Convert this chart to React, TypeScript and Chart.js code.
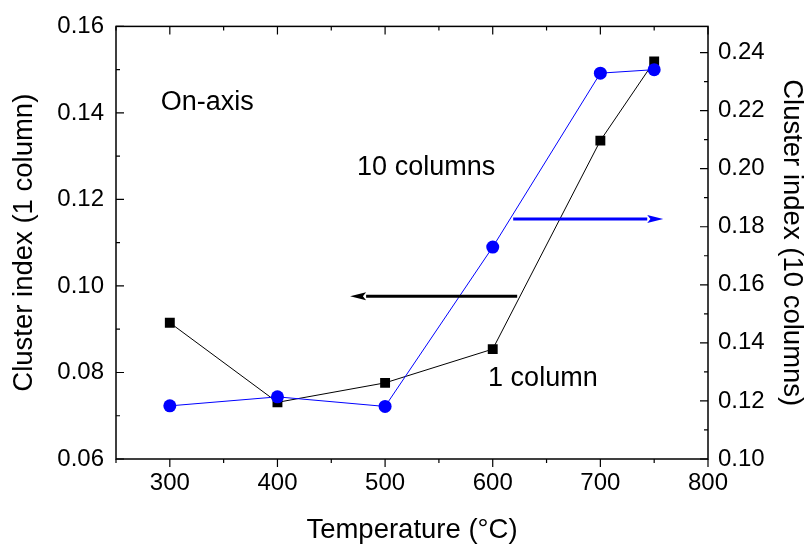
import React, { useEffect, useRef } from "react";
import { Chart, registerables } from "chart.js";

Chart.register(...registerables);

const temperatures = [300, 400, 500, 600, 700, 750];
const oneColumn = [0.0915, 0.0731, 0.0776, 0.0854, 0.1336, 0.1519];
const tenColumns = [0.1183, 0.1214, 0.1181, 0.173, 0.2329, 0.2341];

const xTicks = [300, 400, 500, 600, 700, 800];
const xMinorTicks = [250, 350, 450, 550, 650, 750];
const leftTicks = [0.06, 0.08, 0.1, 0.12, 0.14, 0.16];
const leftMinorTicks = [0.07, 0.09, 0.11, 0.13, 0.15];
const rightTicks = [0.1, 0.12, 0.14, 0.16, 0.18, 0.2, 0.22, 0.24];
const rightMinorTicks = [0.11, 0.13, 0.15, 0.17, 0.19, 0.21, 0.23];

const FONT = "'Liberation Sans', Arial, sans-serif";
const TICK_SIZE = 24;
const TITLE_SIZE = 27.5;
const NOTE_SIZE = 27;

const framePlugin = {
  id: "frame",
  afterDatasetsDraw(chart: any) {
    const ctx = chart.ctx;
    const { left, right, top, bottom } = chart.chartArea;
    const x = chart.scales.x;
    const y = chart.scales.y;
    const y1 = chart.scales.y1;
    ctx.save();
    ctx.strokeStyle = "#000";
    ctx.lineWidth = 1.5;
    ctx.strokeRect(left, top, right - left, bottom - top);
    ctx.lineWidth = 1.2;
    ctx.beginPath();
    const major = 8;
    const minor = 4;
    xTicks.forEach((v) => {
      const p = x.getPixelForValue(v);
      ctx.moveTo(p, bottom);
      ctx.lineTo(p, bottom + major);
      ctx.moveTo(p, top);
      ctx.lineTo(p, top + major);
    });
    xMinorTicks.forEach((v) => {
      const p = x.getPixelForValue(v);
      ctx.moveTo(p, bottom);
      ctx.lineTo(p, bottom + minor);
      ctx.moveTo(p, top);
      ctx.lineTo(p, top + minor);
    });
    leftTicks.forEach((v) => {
      const p = y.getPixelForValue(v);
      ctx.moveTo(left, p);
      ctx.lineTo(left + major, p);
    });
    leftMinorTicks.forEach((v) => {
      const p = y.getPixelForValue(v);
      ctx.moveTo(left, p);
      ctx.lineTo(left + minor, p);
    });
    rightTicks.forEach((v) => {
      const p = y1.getPixelForValue(v);
      ctx.moveTo(right, p);
      ctx.lineTo(right - major, p);
    });
    rightMinorTicks.forEach((v) => {
      const p = y1.getPixelForValue(v);
      ctx.moveTo(right, p);
      ctx.lineTo(right - minor, p);
    });
    ctx.stroke();

    // annotations
    ctx.fillStyle = "#000";
    ctx.font = `${NOTE_SIZE}px ${FONT}`;
    ctx.textBaseline = "middle";
    ctx.textAlign = "left";
    ctx.fillText("On-axis", x.getPixelForValue(291.5), y.getPixelForValue(0.1424));
    ctx.fillText("10 columns", x.getPixelForValue(474), y.getPixelForValue(0.1274));
    ctx.fillText("1 column", x.getPixelForValue(595.7), y.getPixelForValue(0.0787));

    const arrow = (x0: number, x1: number, yy: number, color: string) => {
      const px0 = x.getPixelForValue(x0);
      const px1 = x.getPixelForValue(x1);
      const py = y.getPixelForValue(yy);
      const dir = Math.sign(px1 - px0);
      const headLen = 16;
      const headW = 4;
      ctx.strokeStyle = color;
      ctx.fillStyle = color;
      ctx.lineWidth = 3;
      ctx.beginPath();
      ctx.moveTo(px0, py);
      ctx.lineTo(px1 - dir * headLen, py);
      ctx.stroke();
      ctx.beginPath();
      ctx.moveTo(px1, py);
      ctx.lineTo(px1 - dir * headLen, py - headW);
      ctx.lineTo(px1 - dir * headLen * 0.8, py);
      ctx.lineTo(px1 - dir * headLen, py + headW);
      ctx.closePath();
      ctx.fill();
    };
    arrow(622.7, 467.5, 0.0976, "#000");
    arrow(619, 758.4, 0.1155, "#0000ff");
    ctx.restore();
  },
};

export default function App() {
  const canvasRef = useRef<HTMLCanvasElement>(null);

  useEffect(() => {
    document.body.style.margin = "0";
    const canvas = canvasRef.current;
    if (!canvas) return;
    const tickFont = { family: FONT, size: TICK_SIZE };
    const titleFont = { family: FONT, size: TITLE_SIZE, lineHeight: 1.2 };
    const chart = new Chart(canvas, {
      type: "scatter",
      data: {
        datasets: [
          {
            label: "10 columns",
            data: temperatures.map((t, i) => ({ x: t, y: tenColumns[i] })),
            yAxisID: "y1",
            showLine: true,
            borderColor: "#0000ff",
            backgroundColor: "#0000ff",
            borderWidth: 1,
            pointStyle: "circle",
            pointRadius: 6.5,
            pointBorderWidth: 0,
            order: 0,
          },
          {
            label: "1 column",
            data: temperatures.map((t, i) => ({ x: t, y: oneColumn[i] })),
            yAxisID: "y",
            showLine: true,
            borderColor: "#000",
            backgroundColor: "#000",
            borderWidth: 1,
            pointStyle: "rect",
            pointRadius: 7,
            pointBorderWidth: 0,
            order: 1,
          },
        ],
      },
      options: {
        animation: false,
        responsive: false,
        maintainAspectRatio: false,
        layout: { padding: { top: 20, left: 0, right: 0, bottom: 0 } },
        plugins: { legend: { display: false }, tooltip: { enabled: false } },
        scales: {
          x: {
            type: "linear",
            position: "bottom",
            min: 250,
            max: 800,
            grid: { display: false, drawTicks: false },
            border: { display: false },
            afterBuildTicks: (s: any) => {
              s.ticks = xTicks.map((v) => ({ value: v }));
            },
            afterFit: (s: any) => {
              s.height = 93;
            },
            ticks: { font: tickFont, color: "#000", padding: 10, maxRotation: 0, autoSkip: false },
            title: {
              display: true,
              text: "Temperature (°C)",
              font: titleFont,
              color: "#000",
              padding: { top: 0, bottom: 5.5 },
            },
          },
          y: {
            type: "linear",
            position: "left",
            min: 0.06,
            max: 0.16,
            grid: { display: false, drawTicks: false },
            border: { display: false },
            afterBuildTicks: (s: any) => {
              s.ticks = leftTicks.map((v) => ({ value: v }));
            },
            afterFit: (s: any) => {
              s.width = 116;
            },
            ticks: {
              font: tickFont,
              color: "#000",
              padding: 12,
              autoSkip: false,
              callback: (v: any) => Number(v).toFixed(2),
            },
            title: {
              display: true,
              text: "Cluster index (1 column)",
              font: titleFont,
              color: "#000",
              padding: { top: 7.5, bottom: 0 },
            },
          },
          y1: {
            type: "linear",
            position: "right",
            min: 0.1,
            max: 0.249,
            grid: { display: false, drawTicks: false },
            border: { display: false },
            afterBuildTicks: (s: any) => {
              s.ticks = rightTicks.map((v) => ({ value: v }));
            },
            afterFit: (s: any) => {
              s.width = 103;
            },
            ticks: {
              font: tickFont,
              color: "#000",
              padding: 10,
              autoSkip: false,
              callback: (v: any) => Number(v).toFixed(2),
            },
            title: {
              display: true,
              text: "Cluster index (10 columns)",
              font: titleFont,
              color: "#000",
              padding: { top: 2.5, bottom: 0 },
            },
          },
        },
      },
      plugins: [framePlugin],
    });
    return () => chart.destroy();
  }, []);

  return (
    <div style={{ width: 811, height: 552, background: "#fff" }}>
      <canvas ref={canvasRef} width={811} height={552} style={{ display: "block" }} />
    </div>
  );
}
